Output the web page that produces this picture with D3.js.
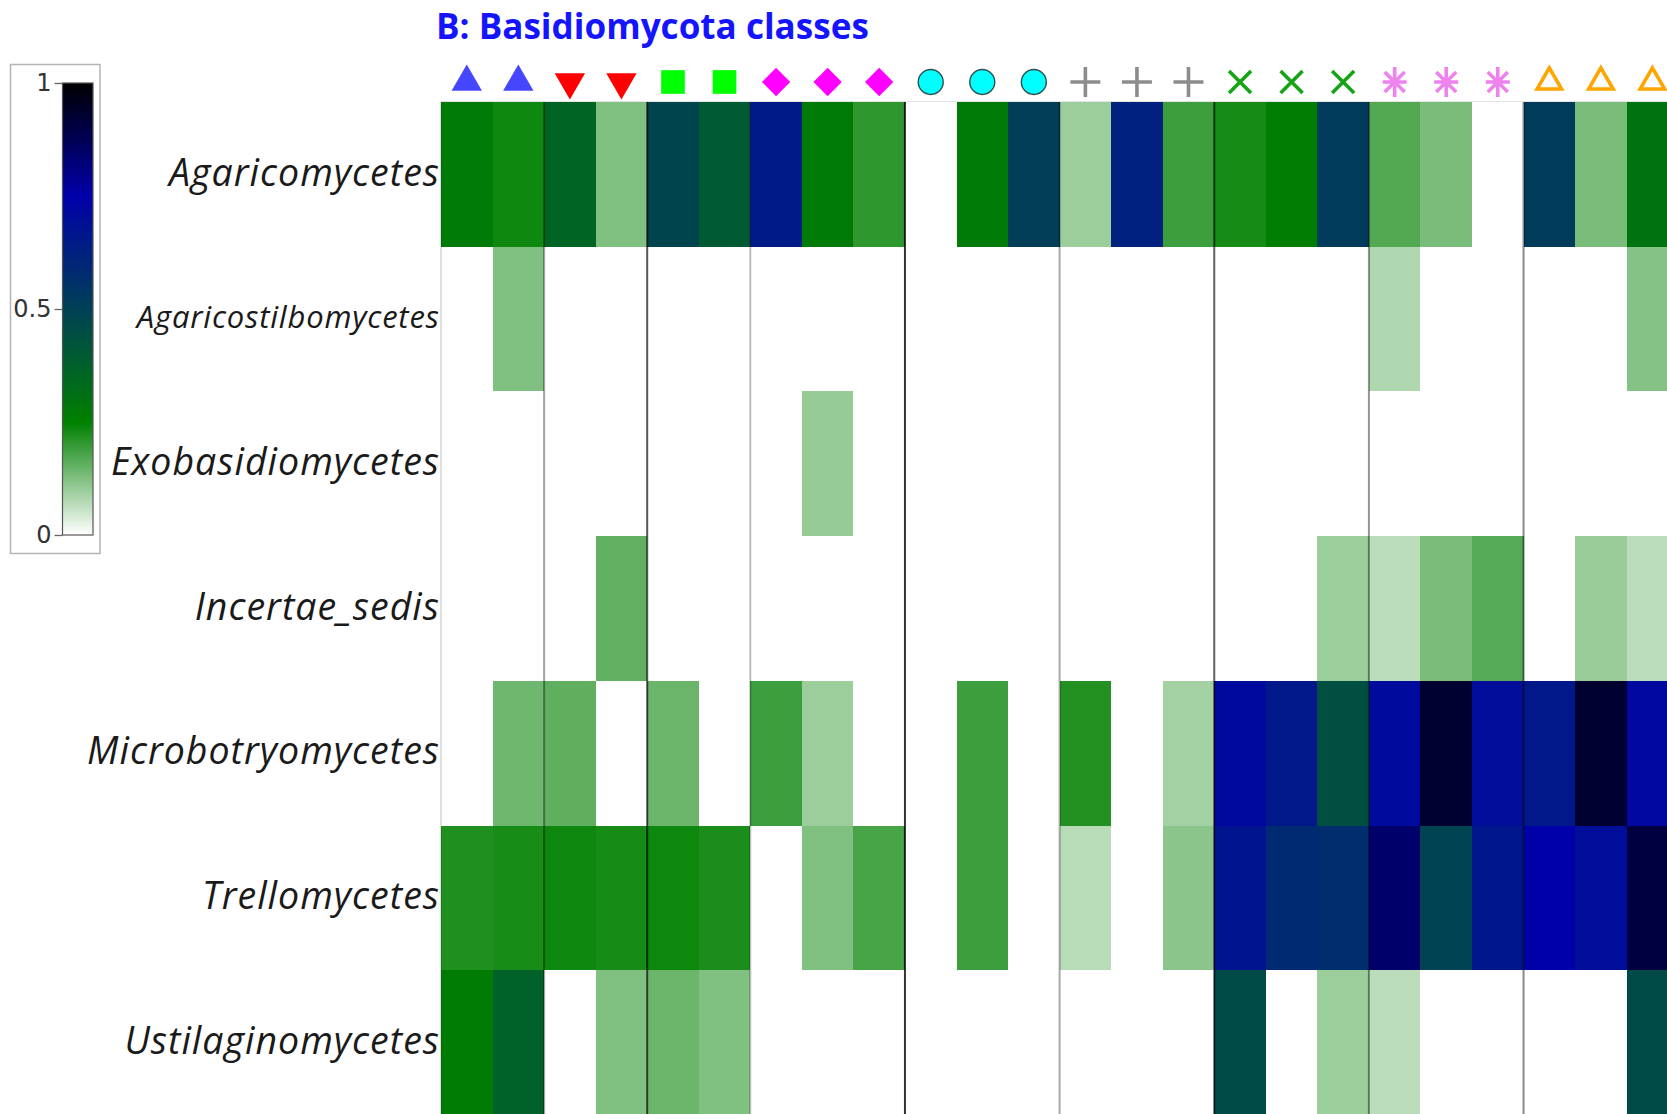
<!DOCTYPE html>
<html>
<head>
<meta charset="utf-8">
<title>B: Basidiomycota classes</title>
<script src="https://cdn.jsdelivr.net/npm/d3@7"></script>
<style>
  html, body { margin: 0; padding: 0; background: #ffffff; }
  svg { display: block; }
</style>
</head>
<body>
<div id="chart"></div>
<script>
// ---- data -------------------------------------------------------------
const classes = [
  "Agaricomycetes",
  "Agaricostilbomycetes",
  "Exobasidiomycetes",
  "Incertae_sedis",
  "Microbotryomycetes",
  "Trellomycetes",
  "Ustilaginomycetes"
];

// sample group of each of the 24 columns
const sampleGroups = [
  "A", "A",
  "B", "B",
  "C", "C",
  "D", "D", "D",
  "E", "E", "E",
  "F", "F", "F",
  "G", "G", "G",
  "H", "H", "H",
  "I", "I", "I"
];

const groupNames = ["A", "B", "C", "D", "E", "F", "G", "H", "I"];
const groupShapes = ["triangle", "triangleDown", "square", "diamond", "circle", "plus", "cross", "asterisk", "triangleOpen"];
const groupColours = ["#4646ff", "#ff0000", "#00ff00", "#ff00ff", "#00ffff", "#8c8c8c", "#16a316", "#ee82ee", "#ffa500"];

// relative abundance of each class per sample (0..1)
const agaricomycetes       = [0.27, 0.235, 0.36, 0.125, 0.48, 0.40, 0.65, 0.27, 0.205, 0, 0.27, 0.505, 0.097, 0.62, 0.19, 0.228, 0.26, 0.52, 0.17, 0.13, 0, 0.52, 0.13, 0.30];
const agaricostilbomycetes = [0, 0.125, 0, 0, 0, 0, 0, 0, 0, 0, 0, 0, 0, 0, 0, 0, 0, 0, 0.077, 0, 0, 0, 0, 0.12];
const exobasidiomycetes    = [0, 0, 0, 0, 0, 0, 0, 0.103, 0, 0, 0, 0, 0, 0, 0, 0, 0, 0, 0, 0, 0, 0, 0, 0];
const incertaeSedis        = [0, 0, 0, 0.154, 0, 0, 0, 0, 0, 0, 0, 0, 0, 0, 0, 0, 0, 0.097, 0.066, 0.13, 0.167, 0, 0.10, 0.066];
const microbotryomycetes   = [0, 0.141, 0.157, 0, 0.146, 0, 0.19, 0.097, 0, 0, 0.19, 0, 0.217, 0, 0.09, 0.715, 0.655, 0.44, 0.71, 0.93, 0.70, 0.655, 0.93, 0.72];
const trellomycetes        = [0.22, 0.227, 0.236, 0.228, 0.237, 0.225, 0, 0.125, 0.18, 0, 0.19, 0, 0.07, 0, 0.114, 0.67, 0.585, 0.575, 0.844, 0.49, 0.66, 0.75, 0.70, 0.905];
const ustilaginomycetes    = [0.265, 0.37, 0, 0.125, 0.144, 0.125, 0, 0, 0, 0, 0, 0, 0, 0, 0, 0.46, 0, 0.097, 0.066, 0, 0, 0, 0, 0.46];

const classValues = [
  agaricomycetes, agaricostilbomycetes, exobasidiomycetes, incertaeSedis,
  microbotryomycetes, trellomycetes, ustilaginomycetes
];

const legendTicks = [0, 0.5, 1];
const titleText = "B: Basidiomycota classes";

// ---- layout -----------------------------------------------------------
const W = 1667, H = 1114;
const heat = { left: 441, top: 102, colW: 51.55, rowH: 144.7 };
const nCols = sampleGroups.length;

const svg = d3.select("#chart").append("svg")
  .attr("width", W).attr("height", H)
  .attr("viewBox", `0 0 ${W} ${H}`);

const x = d3.scaleBand()
  .domain(d3.range(nCols))
  .range([heat.left, heat.left + nCols * heat.colW])
  .padding(0);

const y = d3.scaleBand()
  .domain(classes)
  .range([heat.top, heat.top + classes.length * heat.rowH])
  .padding(0);

const colour = d3.scaleLinear()
  .domain([0, 0.25, 0.75, 1])
  .range(["#ffffff", "#008000", "#0000aa", "#000000"])
  .interpolate(d3.interpolateRgb)
  .clamp(true);

// ---- heatmap cells ----------------------------------------------------
const cells = [];
classes.forEach((c, r) => {
  classValues[r].forEach((v, i) => cells.push({ cls: c, col: i, value: v }));
});

svg.append("g").attr("class", "cells")
  .selectAll("rect")
  .data(cells)
  .join("rect")
  .attr("x", d => x(d.col))
  .attr("y", d => y(d.cls))
  .attr("width", x.bandwidth() + 0.5)
  .attr("height", y.bandwidth() + 0.5)
  .attr("fill", d => colour(d.value))
  .attr("shape-rendering", "crispEdges");

// faint frame along the top of the grid
svg.append("line")
  .attr("x1", heat.left).attr("x2", W)
  .attr("y1", heat.top - 0.5).attr("y2", heat.top - 0.5)
  .attr("stroke", "#e4e4e4").attr("stroke-width", 1.2);

// ---- group dividers ---------------------------------------------------
const boundaries = [0];
for (let i = 1; i < nCols; i++) {
  if (sampleGroups[i] !== sampleGroups[i - 1]) boundaries.push(i);
}
const dividerOpacity = [0.12, 0.36, 0.66, 0.26, 0.8, 0.34, 0.62, 0.42, 0.46];

svg.append("g").attr("class", "dividers")
  .selectAll("line")
  .data(boundaries)
  .join("line")
  .attr("x1", d => x(d)).attr("x2", d => x(d))
  .attr("y1", heat.top).attr("y2", H)
  .attr("stroke", "#000")
  .attr("stroke-opacity", (d, i) => dividerOpacity[i])
  .attr("stroke-width", 2);

// ---- sample group symbols ---------------------------------------------
const symY = 82;
function symbolPath(shape) {
  switch (shape) {
    case "triangle":
    case "triangleDown":
      return d3.symbol(d3.symbolTriangle, 400)();
    case "triangleOpen":
      return d3.symbol(d3.symbolTriangle, 260)();
    case "square":
      return d3.symbol(d3.symbolSquare, 560)();
    case "diamond":
      return d3.symbol(d3.symbolSquare, 400)();
    case "circle":
      return d3.symbol(d3.symbolCircle, 490)();
    case "plus":
      return "M-15,0H15M0,-15V15";
    case "cross":
      return "M-11,-11L11,11M-11,11L11,-11";
    case "asterisk":
      return "M0,-15V15M-12,0H12M-10,-10L10,10M-10,10L10,-10";
  }
}

svg.append("g").attr("class", "symbols")
  .selectAll("path")
  .data(sampleGroups.map((g, i) => ({ group: g, col: i })))
  .join("path")
  .attr("d", d => symbolPath(groupShapes[groupNames.indexOf(d.group)]))
  .attr("transform", d => {
    const shape = groupShapes[groupNames.indexOf(d.group)];
    const cx = x(d.col) + x.bandwidth() / 2;
    const rot = shape === "triangleDown" ? 180 : shape === "diamond" ? 45 : 0;
    return `translate(${cx},${symY}) rotate(${rot})`;
  })
  .each(function (d) {
    const k = groupNames.indexOf(d.group);
    const shape = groupShapes[k];
    const col = groupColours[k];
    const s = d3.select(this);
    if (["plus", "cross", "asterisk"].includes(shape)) {
      s.attr("fill", "none").attr("stroke", col).attr("stroke-width", 3.6);
    } else if (shape === "triangleOpen") {
      s.attr("fill", "none").attr("stroke", col).attr("stroke-width", 3.6)
        .attr("stroke-linejoin", "miter");
    } else if (shape === "circle") {
      s.attr("fill", col).attr("stroke", "#2f4f4f").attr("stroke-width", 1.4);
    } else {
      s.attr("fill", col);
    }
  });

// ---- title --------------------------------------------------------------
const title = svg.append("text")
  .attr("x", 436).attr("y", 39)
  .attr("font-family", "'Open Sans', sans-serif")
  .attr("font-weight", 700)
  .attr("font-size", 31)
  .attr("fill", "#1414ff")
  .text(titleText);
// scale the title so it spans the first eight and a half columns
{
  const target = 433;
  const w = title.node().getComputedTextLength();
  if (w > 0) title.attr("font-size", 31 * target / w);
}

// ---- row labels -------------------------------------------------------
const isLongLabel = c => c === "Agaricostilbomycetes";
svg.append("g").attr("class", "row-labels")
  .selectAll("text")
  .data(classes)
  .join("text")
  .attr("x", d => heat.left - 2 + (isLongLabel(d) ? 0.8 : 1))
  .attr("y", d => y(d) + y.bandwidth() / 2)
  .attr("dy", "0.3em")
  .attr("text-anchor", "end")
  .attr("font-family", "'Open Sans', sans-serif")
  .attr("font-style", "italic")
  .attr("font-size", d => isLongLabel(d) ? 31 : 37.5)
  .attr("letter-spacing", d => isLongLabel(d) ? 0.8 : 1)
  .attr("fill", "#1a1a1a")
  .text(d => d);

// ---- colour key -------------------------------------------------------
const key = { x: 62.5, y: 83, w: 30.5, h: 452 };
svg.append("rect")
  .attr("x", 10.5).attr("y", 64.5)
  .attr("width", 89.5).attr("height", 489)
  .attr("fill", "none").attr("stroke", "#b4b4b4").attr("stroke-width", 1.5);

const grad = svg.append("defs").append("linearGradient")
  .attr("id", "keyGrad")
  .attr("x1", 0).attr("y1", 1).attr("x2", 0).attr("y2", 0);
grad.selectAll("stop")
  .data(d3.range(0, 1.0001, 0.05))
  .join("stop")
  .attr("offset", d => d)
  .attr("stop-color", d => colour(d));

svg.append("rect")
  .attr("x", key.x).attr("y", key.y)
  .attr("width", key.w).attr("height", key.h)
  .attr("fill", "url(#keyGrad)")
  .attr("stroke", "#555").attr("stroke-width", 1.2);

const keyScale = d3.scaleLinear().domain([0, 1]).range([key.y + key.h, key.y]);
const keyAxis = svg.append("g")
  .attr("transform", `translate(${key.x},0)`)
  .call(d3.axisLeft(keyScale).tickValues(legendTicks).tickSize(8).tickFormat(d3.format("~g")));
keyAxis.select(".domain").remove();
keyAxis.selectAll(".tick line").attr("stroke", "#666").attr("stroke-width", 1.3);
keyAxis.selectAll(".tick text")
  .attr("font-family", "'DejaVu Sans', sans-serif")
  .attr("font-size", 24)
  .attr("fill", "#333")
  .attr("x", -11);
</script>
</body>
</html>
